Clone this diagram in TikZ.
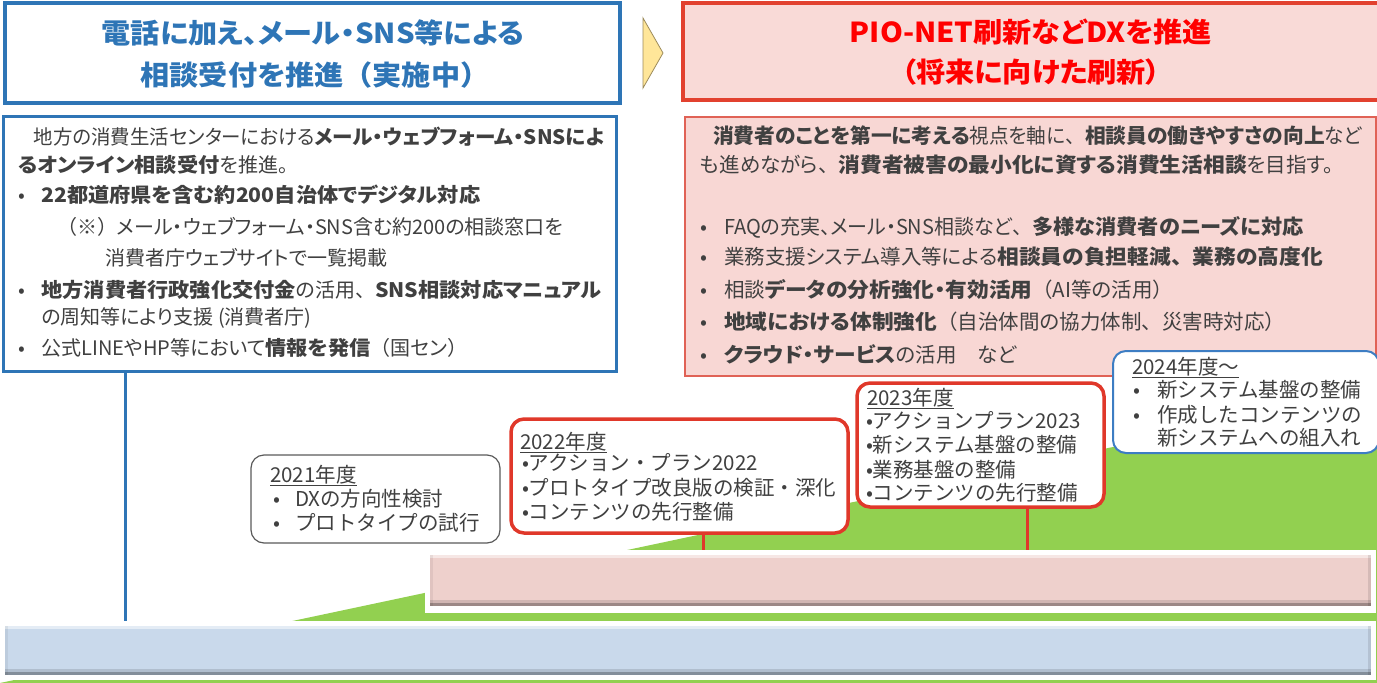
\documentclass[tikz,border=0pt]{standalone}
\usepackage{graphicx}
\usepackage{fontspec}
\setmainfont{Noto Sans CJK JP}[RawFeature=+palt, BoldFeatures={FakeStretch=1.06}]
\newfontfamily\jpm{Noto Sans CJK JP}[BoldFeatures={FakeStretch=1.06}]
\usetikzlibrary{calc}
\definecolor{ttblue}{HTML}{2E75B6}
\definecolor{ttred}{HTML}{E2412F}
\definecolor{titlered}{HTML}{FF0000}
\definecolor{ttpink}{HTML}{F9DAD7}
\definecolor{pinkbox}{HTML}{F8D7D4}
\definecolor{boxred}{HTML}{E06256}
\definecolor{txt}{HTML}{404040}
\definecolor{grn}{HTML}{92D050}
\definecolor{barpink}{HTML}{EED0CC}
\definecolor{barblue}{HTML}{C9D9EB}
\definecolor{chev}{HTML}{FFE699}
\definecolor{chevline}{HTML}{9C8B5B}
\definecolor{tlred}{HTML}{E0382A}
\definecolor{tlblue}{HTML}{3D7DC3}
\definecolor{tlgray}{HTML}{5A5A5A}
\newcommand\jlp{{\jpm （}}
\newcommand\jrp{{\jpm ）}}
\newcommand\jcm{{\jpm 、}}
\tikzset{
  frame/.style={rectangle, inner sep=0pt, outer sep=0pt, anchor=north west},
  ln/.style={anchor=base west, inner sep=0pt, outer sep=0pt, text=txt, font=\fontsize{20}{24}\selectfont},
  rln/.style={ln, font=\fontsize{20.5}{24}\selectfont},
  tln/.style={anchor=base west, inner sep=0pt, outer sep=0pt, text=txt, font=\jpm\fontsize{20.5}{24}\selectfont},
  ttl/.style={anchor=base, inner sep=0pt, outer sep=0pt, font=\fontsize{27.5}{32}\selectfont\bfseries},
  tlbox/.style={frame, fill=white, rounded corners=13pt},
  bevel/.style={path picture={
    \fill[white,opacity=.5] (path picture bounding box.north west) rectangle ([yshift=-3pt]path picture bounding box.north east);
    \fill[black,opacity=.10] ([xshift=-3pt]path picture bounding box.north east) rectangle (path picture bounding box.south east);
    \fill[black,opacity=.06] (path picture bounding box.north west) rectangle ([xshift=3pt]path picture bounding box.south west);
    \fill[black,opacity=.12] ([yshift=6pt]path picture bounding box.south west) rectangle (path picture bounding box.south east);
    \fill[black,opacity=.25] ([yshift=3pt]path picture bounding box.south west) rectangle (path picture bounding box.south east);
  }},
  conn/.style={line width=3pt}
}
\begin{document}
\begin{tikzpicture}[x=1pt,y=-1pt]
\useasboundingbox (0,0) rectangle (1377,683);
% green wedge
\fill[grn] (0,683) -- (1377,391) -- (1377,683) -- cycle;
% bars
\node[frame, fill=white, minimum width=951pt, minimum height=63pt] (pglow) at (425,550) {};
\node[frame, fill=barpink, bevel, minimum width=941pt, minimum height=51pt] (pbar) at (430,555) {};
\node[frame, fill=white, minimum width=1375pt, minimum height=59pt] (bglow) at (1,621) {};
\node[frame, fill=barblue, bevel, minimum width=1366pt, minimum height=49pt] (bbar) at (5,626) {};
% title boxes
\node[frame, draw=ttblue, line width=3.5pt, fill=white, minimum width=615pt, minimum height=100pt] (tbox) at (5,3) {};
\node[frame, draw=ttred, line width=3.5pt, fill=ttpink, minimum width=697pt, minimum height=97pt] (rbox) at (683,3) {};
\fill[chev, draw=chevline, line width=0.8pt] (643,18) -- (663,53) -- (643,88) -- cycle;
% content boxes
\node[frame, draw=ttblue, line width=3pt, fill=white, minimum width=613pt, minimum height=255pt] (lbox) at (3,116) {};
\node[frame, draw=boxred, line width=1.5pt, fill=pinkbox, minimum width=691pt, minimum height=259pt] (cbox) at (685,117) {};
% connectors
\coordinate (cbl) at (125,0);
\coordinate (c22) at (703,0);
\coordinate (c23) at (1027,0);
\draw[conn, ttblue] (lbox.south -| cbl) -- (bglow.north -| cbl);
% timeline boxes
\node[tlbox, draw=tlgray, line width=1.2pt, minimum width=249pt, minimum height=88pt] (b21) at (251,455) {};
\node[tlbox, draw=tlred, line width=3.5pt, minimum width=337pt, minimum height=114pt] (b22) at (511,419) {};
\node[tlbox, draw=tlred, line width=3.5pt, minimum width=247pt, minimum height=124pt] (b23) at (857,383) {};
\node[tlbox, draw=tlblue, line width=2pt, minimum width=266pt, minimum height=102pt] (b24) at (1113,351) {};
\draw[conn, tlred] (b22.south -| c22) -- (pglow.north -| c22);
\draw[conn, tlred] (b23.south -| c23) -- (pglow.north -| c23);
% titles
\node[ttl, text=ttblue] (t1) at (313,43) {電話に加え、メール・SNS等による};
\node[ttl, text=ttblue] (t2) at (315,85) {相談受付を推進\jlp 実施中\jrp};
\node[ttl, text=titlered] (t3) at (1031,42) {PIO-NET刷新などDXを推進};
\node[ttl, text=titlered] (t4) at (1031,82) {（将来に向けた刷新）};
% left content
\node[ln] (l1) at (34,144) {\scalebox{0.971}[1]{地方の消費生活センターにおける\textbf{メール・ウェブフォーム・SNSによ}}};
\node[ln] (l2) at (18,172) {\textbf{るオンライン相談受付}を推進。};
\node[ln] (l3b) at (18,202) {•};
\node[ln] (l3) at (41.5,202) {\textbf{22都道府県を含む約200自治体でデジタル対応}};
\node[ln] (l4) at (57,234) {\jlp ※\jrp メール・ウェブフォーム・SNS含む約200の相談窓口を};
\node[ln] (l5) at (105,265) {消費者庁ウェブサイトで一覧掲載};
\node[ln] (l6b) at (18,297) {•};
\node[ln] (l6) at (41.5,297) {\textbf{地方消費者行政強化交付金}の活用\jcm\textbf{SNS相談対応マニュアル}};
\node[ln] (l7) at (41.5,324) {の周知等により支援 (消費者庁)};
\node[ln] (l8b) at (18,355) {•};
\node[ln] (l8) at (41.5,355) {公式LINEやHP等において\textbf{情報を発信}\jlp 国セン\jrp};
% right content
\node[rln] (r1) at (713,143) {\scalebox{0.955}[1]{\textbf{消費者のことを第一に考える}視点を軸に\jcm\textbf{相談員の働きやすさの向上}など}};
\node[rln] (r2) at (700,172) {も進めながら\jcm\textbf{消費者被害の最小化に資する消費生活相談}を目指す。};
\node[rln] (r3b) at (700,234) {•};
\node[rln] (r3) at (724,234) {\scalebox{0.975}[1]{FAQの充実、メール・SNS相談など\jcm\textbf{多様な消費者のニーズに対応}}};
\node[rln] (r4b) at (700,264) {•};
\node[rln] (r4) at (724,264) {業務支援システム導入等による\textbf{相談員の負担軽減\jcm 業務の高度化}};
\node[rln] (r5b) at (700,297) {•};
\node[rln] (r5) at (724,297) {相談\textbf{データの分析強化・有効活用}\jlp AI等の活用\jrp};
\node[rln] (r6b) at (700,329) {•};
\node[rln] (r6) at (724,329) {\textbf{地域における体制強化}\jlp 自治体間の協力体制\jcm 災害時対応\jrp};
\node[rln] (r7b) at (700,362) {•};
\node[rln] (r7) at (724,362) {\textbf{クラウド・サービス}の活用　など};
% 2021
\node[tln] (a0) at (270,482) {\underline{2021年度}};
\node[tln] (a1b) at (273,506) {•};
\node[tln] (a1) at (295,506) {DXの方向性検討};
\node[tln] (a2b) at (273,530) {•};
\node[tln] (a2) at (295,530) {プロトタイプの試行};
% 2022
\node[tln] (d0) at (520,449) {\underline{2022年度}};
\node[tln] (d1) at (522,470) {•アクション・プラン2022};
\node[tln] (d2) at (522,495) {•プロトタイプ改良版の検証・深化};
\node[tln] (d3) at (522,519) {•コンテンツの先行整備};
% 2023
\node[tln] (e0) at (867,405) {\underline{2023年度}};
\node[tln] (e1) at (866,428) {•アクションプラン2023};
\node[tln] (e2) at (866,452) {•新システム基盤の整備};
\node[tln] (e3) at (866,477) {•業務基盤の整備};
\node[tln] (e4) at (866,500) {•コンテンツの先行整備};
% 2024
\node[tln] (f0) at (1132,374) {\underline{2024年度～}};
\node[tln] (f1b) at (1133,397) {•};
\node[tln] (f1) at (1157,397) {新システム基盤の整備};
\node[tln] (f2b) at (1133,422) {•};
\node[tln] (f2) at (1157,422) {作成したコンテンツの};
\node[tln] (f3) at (1157,445) {新システムへの組入れ};
\end{tikzpicture}
\end{document}
